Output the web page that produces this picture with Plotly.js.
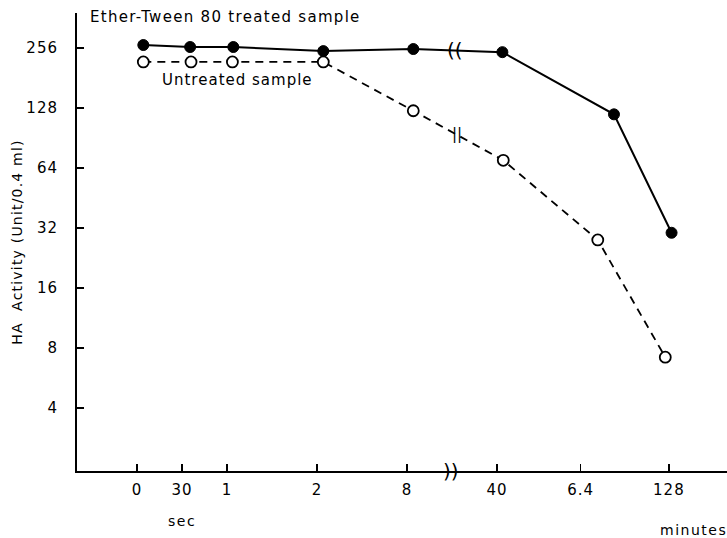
<!DOCTYPE html>
<html>
<head>
<meta charset="utf-8">
<script src="https://cdn.plot.ly/plotly-3.0.1.min.js"></script>
<style>html,body{margin:0;padding:0;background:#fff;}#chart{width:727px;height:538px;}</style>
</head>
<body>
<div id="chart"></div>
<script>
// x positions are along the hand-drawn (broken) time axis, in tick units
const xTickPos = [0, 0.5, 1, 2, 3, 4, 4.93, 5.91];
const xTickText = ['0', '30', '1', '2', '8', '40', '6.4', '128'];
const yTickVals = [4, 8, 16, 32, 64, 128, 256];
const yTickText = ['4', '8', '16', '32', '64', '128', '256'];

const treatedX = [0.07, 0.59, 1.07, 2.07, 3.07, 4.06, 5.30, 5.94];
const treatedY = [265, 259, 259, 247, 253, 244, 119, 30.3];
const untreatedX = [0.07, 0.60, 1.06, 2.07, 3.07, 4.07, 5.12, 5.87];
const untreatedY = [218, 218, 218, 218, 124, 70, 27.9, 7.2];

const breakX = 3.5;
const FONT = 'DejaVu Sans, sans-serif';
const sp = (t, px) => '<span style="letter-spacing:' + px + 'px">' + t + '</span>';

const traces = [
  {
    x: untreatedX, y: untreatedY, type: 'scatter', mode: 'lines+markers',
    name: 'Untreated sample',
    line: {color: '#000', width: 1.8, dash: '8px,6px'},
    marker: {symbol: 'circle', size: 11, color: '#fff', line: {color: '#000', width: 1.8}}
  },
  {
    x: treatedX, y: treatedY, type: 'scatter', mode: 'lines+markers',
    name: 'Ether-Tween 80 treated sample',
    line: {color: '#000', width: 2},
    marker: {symbol: 'circle', size: 11, color: '#000', line: {color: '#000', width: 1}}
  }
];

const layout = {
  width: 727, height: 538,
  margin: {l: 77, r: 0, t: 13, b: 67},
  paper_bgcolor: '#fff', plot_bgcolor: '#fff',
  showlegend: false,
  font: {family: FONT, color: '#000', size: 14},
  xaxis: {
    range: [-0.667, 6.556],
    showgrid: false, zeroline: false,
    showline: true, linecolor: '#000', linewidth: 2,
    ticks: 'inside', ticklen: 7, tickwidth: 1.5, tickcolor: '#000',
    tickmode: 'array', tickvals: xTickPos, ticktext: xTickText.map(t => sp(t, 1)),
    ticklabelstandoff: 4,
    tickfont: {family: FONT, size: 15, color: '#000'}
  },
  yaxis: {
    type: 'log',
    range: [Math.log10(1.934), Math.log10(383.6)],
    showgrid: false, zeroline: false,
    showline: true, linecolor: '#000', linewidth: 2,
    ticks: 'inside', ticklen: 7, tickwidth: 1.5, tickcolor: '#000',
    tickmode: 'array', tickvals: yTickVals, ticktext: yTickText.map(t => sp(t, 1)),
    ticklabelstandoff: 14,
    tickfont: {family: FONT, size: 15, color: '#000'},
    title: {text: sp('HA  Activity (Unit/0.4 ml)', 1.2), font: {family: FONT, size: 14, color: '#000'}, standoff: 0}
  },
  annotations: [
    {xref: 'paper', yref: 'paper', x: 0.017, y: 0.991, xanchor: 'left', yanchor: 'middle',
     text: sp('Ether-Tween 80 treated sample', 1.3), showarrow: false, font: {family: FONT, size: 15, color: '#000'}},
    {xref: 'paper', yref: 'paper', x: 0.1277, y: 0.8537, xanchor: 'left', yanchor: 'middle',
     text: sp('Untreated sample', 1), showarrow: false, font: {family: FONT, size: 15, color: '#000'}},
    {xref: 'paper', yref: 'paper', x: 0.1615, y: -0.109, xanchor: 'center', yanchor: 'middle',
     text: sp('sec', 1.5), showarrow: false, font: {family: FONT, size: 14, color: '#000'}},
    {xref: 'paper', yref: 'paper', x: 0.948, y: -0.129, xanchor: 'center', yanchor: 'middle',
     text: sp('minutes', 1.5), showarrow: false, font: {family: FONT, size: 14, color: '#000'}},
    // axis breaks
    {xref: 'x', yref: 'paper', x: breakX - 0.01, y: 0, xanchor: 'center', yanchor: 'middle',
     text: '))', showarrow: false, font: {family: FONT, size: 20, color: '#000'}},
    {xref: 'x', yref: 'y', x: breakX + 0.03, y: Math.log10(249), xanchor: 'center', yanchor: 'middle',
     text: '((', showarrow: false, font: {family: FONT, size: 20, color: '#000'}},
    {xref: 'x', yref: 'y', x: breakX + 0.06, y: Math.log10(95), xanchor: 'center', yanchor: 'middle',
     text: '||', showarrow: false, font: {family: FONT, size: 15, color: '#000'}}
  ]
};

Plotly.newPlot('chart', traces, layout, {displayModeBar: false, staticPlot: true});
</script>
</body>
</html>
